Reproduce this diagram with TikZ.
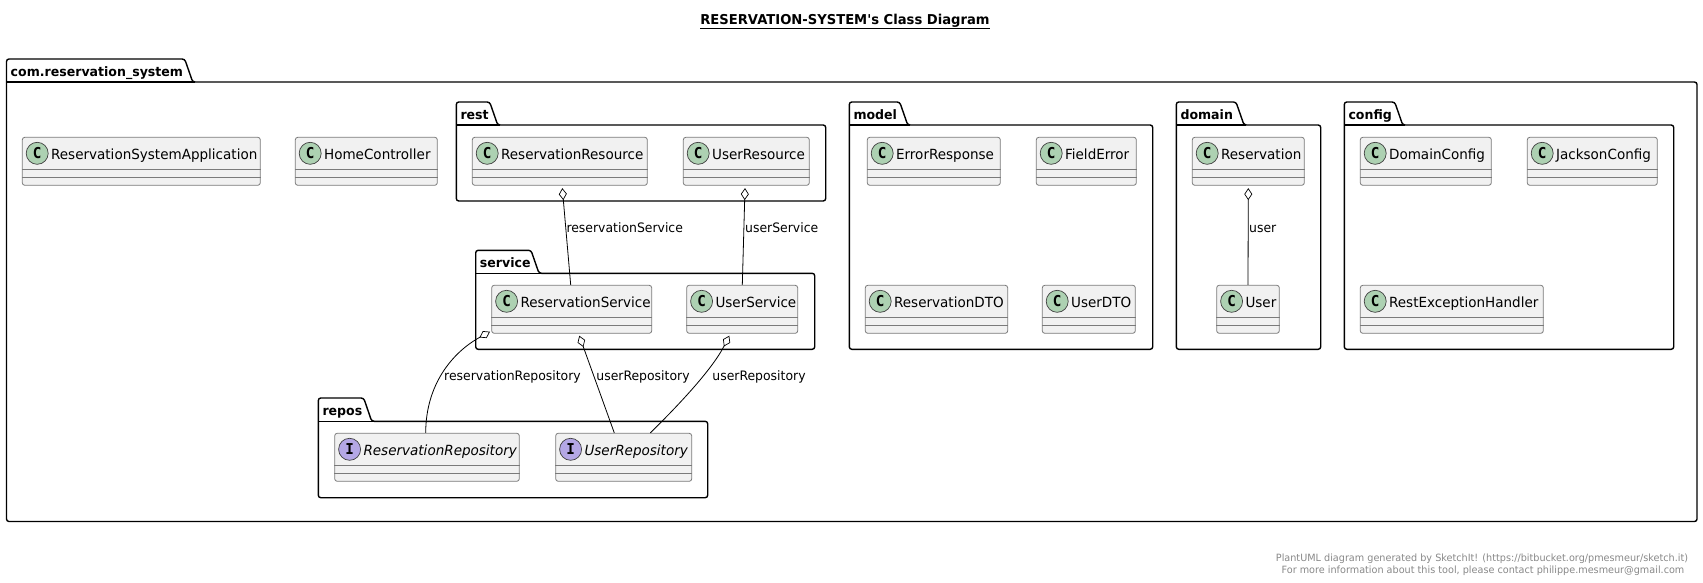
\documentclass[tikz,border=0pt]{standalone}
\usepackage{fontspec}
\setmainfont{DejaVu Sans}[FakeStretch=0.966]
\newfontfamily\lblfont{DejaVu Sans}[FakeStretch=0.956]
\newfontfamily\titlefont{DejaVu Sans}[FakeStretch=0.966]
\newfontfamily\letterfont{DejaVu Sans Mono}[FakeStretch=0.95]
\usetikzlibrary{arrows.meta,calc}
\definecolor{clsfill}{HTML}{F1F1F1}
\definecolor{clsline}{HTML}{7A7A7A}
\definecolor{ccirc}{HTML}{ADD1B2}
\definecolor{icirc}{HTML}{B4A7E5}
\definecolor{footgray}{HTML}{888888}
\tikzset{
  clsnode/.style={draw=clsline,fill=clsfill,line width=0.8pt,rounded corners=2.5pt,inner sep=0pt,minimum height=48pt},
  divline/.style={draw=clsline,line width=0.8pt},
  stcirc/.style={circle,draw=black!75,line width=0.7pt,minimum size=22pt,inner sep=0pt,font=\letterfont\bfseries\fontsize{15}{15}\selectfont},
  clstext/.style={anchor=base west,inner sep=0pt,font=\fontsize{14}{14}\selectfont},
  pkgline/.style={draw=black,line width=1.4pt,rounded corners=2.5pt},
  pkgtext/.style={anchor=base west,inner sep=0pt,font=\bfseries\fontsize{13}{14}\selectfont},
  edgetext/.style={anchor=base west,inner sep=0pt,font=\lblfont\fontsize{13}{14}\selectfont},
  aggr/.style={{Diamond[open,length=12pt,width=8pt,line width=0.7pt]}-,draw=black,line width=0.8pt},
  foot/.style={anchor=base,inner sep=0pt,text=footgray,font=\fontsize{10}{12}\selectfont},
}
\newcommand{\pkgbox}[8]{% name,left,tabright,tabtop,bodytop,right,bottom,label
  \draw[pkgline] (#2,#5) -- (#2,#4) -- ({#3-8},#4) -- (#3,#5) -- (#6,#5) -- (#6,#7) -- (#2,#7) -- cycle;
  \draw[draw=black,line width=1.4pt] (#2,#5) -- ({#3+2},#5);
  \node[pkgtext] (#1) at ({#2+4},{#4+17}) {#8};
}
\newcommand{\clsbox}[6]{% name,x1,x2,y1,label,kind(c/i)
  \node[clsnode,minimum width={(#3)-(#2)}] (#1) at ({(#2+#3)/2},{#4+24}) {};
  \draw[divline] ([yshift=-8pt]#1.west) -- ([yshift=-8pt]#1.east);
  \draw[divline] ([yshift=-16pt]#1.west) -- ([yshift=-16pt]#1.east);
  \if#6c
    \node[stcirc,fill=ccirc] (#1-s) at ([xshift=15.3pt,yshift=8pt]#1.west) {C};
    \node[clstext] (#1-t) at ([xshift=29pt,yshift=2pt]#1.west) {#5};
  \else
    \node[stcirc,fill=icirc] (#1-s) at ([xshift=15.3pt,yshift=8pt]#1.west) {I};
    \node[clstext] (#1-t) at ([xshift=29pt,yshift=2pt]#1.west) {\itshape #5};
  \fi
}
\begin{document}
\begin{tikzpicture}[x=1pt,y=-1pt]
\useasboundingbox (0,0) rectangle (1703,582);
\node[anchor=base,inner sep=0pt,font=\titlefont\bfseries\fontsize{13.6}{14}\selectfont] (title) at (845,24) {\underline{RESERVATION-SYSTEM's Class Diagram}};

\pkgbox{pcom}{6.5}{192.7}{59}{82}{1697}{521.5}{com.reservation\_system}
\pkgbox{prest}{456.3}{497.7}{102}{125}{825.7}{201}{rest}
\pkgbox{pservice}{475.7}{539}{250.3}{273.3}{814.7}{349.3}{service}
\pkgbox{prepos}{318.3}{371.7}{398}{421.3}{707.7}{497.7}{repos}
\pkgbox{pmodel}{849.3}{907.7}{102}{125}{1152.7}{349.3}{model}
\pkgbox{pdomain}{1176.3}{1244}{102}{125}{1320.7}{349.3}{domain}
\pkgbox{pconfig}{1344.3}{1402.7}{102}{125}{1673.7}{349.3}{config}

\clsbox{app}{22.3}{260.3}{137.3}{ReservationSystemApplication}{c}
\clsbox{home}{295.3}{437.3}{137.3}{HomeController}{c}
\clsbox{rres}{472.3}{647.3}{137.3}{ReservationResource}{c}
\clsbox{ures}{683.3}{809.3}{137.3}{UserResource}{c}
\clsbox{rsvc}{491.7}{651.7}{285.3}{ReservationService}{c}
\clsbox{usvc}{686.7}{797.7}{285.3}{UserService}{c}
\clsbox{rrepo}{334.7}{519.3}{433.3}{ReservationRepository}{i}
\clsbox{urepo}{555.7}{691.7}{433.3}{UserRepository}{i}
\clsbox{err}{867.3}{1000.3}{137.3}{ErrorResponse}{c}
\clsbox{ferr}{1036.3}{1136.3}{137.3}{FieldError}{c}
\clsbox{rdto}{865.3}{1007.7}{285.3}{ReservationDTO}{c}
\clsbox{udto}{1042.3}{1135.3}{285.3}{UserDTO}{c}
\clsbox{resv}{1192.3}{1304.3}{137.3}{Reservation}{c}
\clsbox{user}{1216.7}{1279.3}{285.3}{User}{c}
\clsbox{dcfg}{1360.3}{1491.3}{137.3}{DomainConfig}{c}
\clsbox{jcfg}{1527.3}{1657.3}{137.3}{JacksonConfig}{c}
\clsbox{rexh}{1360.3}{1543.3}{285.3}{RestExceptionHandler}{c}

% connectors: class to class
\draw[aggr] ([xshift=2.5pt,yshift=-2.4pt]rres.south) -- ([xshift=-1.0pt]rsvc.north);
\draw[aggr] ([xshift=-1.3pt,yshift=-2.4pt]ures.south) -- ([xshift=0.1pt]usvc.north);
\draw[aggr] ([xshift=-81.7pt,yshift=2pt]rsvc.south) .. controls (452,352.5) and (425.7,385) .. ([xshift=-1.3pt]rrepo.north);
\draw[aggr] ([xshift=7.6pt,yshift=-2pt]rsvc.south) -- ([xshift=-9.4pt]urepo.north);
\draw[aggr] ([xshift=-12.9pt,yshift=-2pt]usvc.south) .. controls (717,360) and (698,386) .. ([xshift=26.6pt]urepo.north);
\draw[aggr] ([xshift=0pt,yshift=-2.4pt]resv.south) -- (user.north);

\node[edgetext] (l1) at (566.3,232) {reservationService};
\node[edgetext] (l2) at (745,232) {userService};
\node[edgetext] (l3) at (444,380) {reservationRepository};
\node[edgetext] (l4) at (596.2,380) {userRepository};
\node[edgetext] (l5) at (712.2,380) {userRepository};
\node[edgetext] (l6) at (1249,232) {user};

\node[foot] (f1) at (1482,561) {PlantUML diagram generated by SketchIt! (https://bitbucket.org/pmesmeur/sketch.it)};
\node[foot] (f2) at (1483,573) {For more information about this tool, please contact philippe.mesmeur@gmail.com};
\end{tikzpicture}
\end{document}
